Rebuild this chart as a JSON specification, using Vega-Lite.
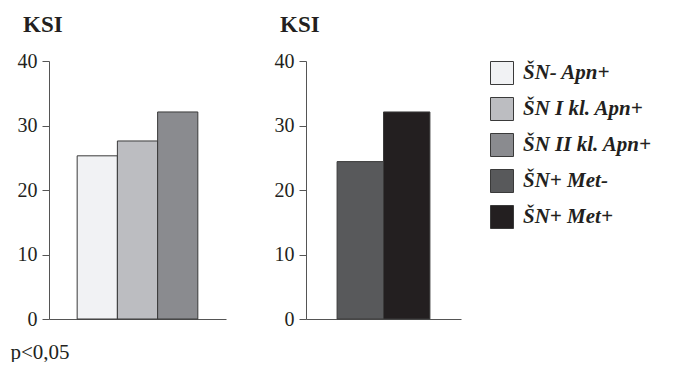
{
  "$schema": "https://vega.github.io/schema/vega-lite/v6.json",
  "background": "white",
  "padding": {"left": 10, "top": 14, "right": 5, "bottom": 0},
  "datasets": {
    "a": [
      {"group": "ŠN- Apn+", "KSI": 25.3},
      {"group": "ŠN I kl. Apn+", "KSI": 27.6},
      {"group": "ŠN II kl. Apn+", "KSI": 32.1}
    ],
    "b": [
      {"group": "ŠN+ Met-", "KSI": 24.4},
      {"group": "ŠN+ Met+", "KSI": 32.1}
    ]
  },
  "config": {
    "font": "Times New Roman",
    "view": {"stroke": null},
    "axis": {
      "grid": false,
      "domainColor": "#555555",
      "tickColor": "#555555",
      "labelFont": "Times New Roman",
      "labelFontSize": 20,
      "labelColor": "#231f20",
      "titleFont": "Times New Roman",
      "titleColor": "#231f20"
    },
    "title": {
      "font": "Times New Roman",
      "fontSize": 23,
      "fontWeight": "bold",
      "color": "#231f20",
      "anchor": "start",
      "frame": "group",
      "dx": -26,
      "offset": 14
    },
    "legend": {
      "orient": "right",
      "offset": 29,
      "symbolType": "square",
      "symbolSize": 529,
      "symbolStrokeColor": "#3a3a3a",
      "symbolStrokeWidth": 1,
      "symbolOpacity": 1,
      "labelFont": "Times New Roman",
      "labelFontStyle": "italic",
      "labelFontWeight": "bold",
      "labelFontSize": 21,
      "labelColor": "#231f20",
      "labelOffset": 9,
      "rowPadding": 8,
      "labelLimit": 300
    }
  },
  "spacing": 48,
  "hconcat": [
    {
      "width": 177,
      "height": 258,
      "title": {"text": "KSI"},
      "data": {"name": "a"},
      "mark": {"type": "bar", "stroke": "#3a3a3a", "strokeWidth": 1},
      "encoding": {
        "x": {
          "field": "group", "type": "nominal", "sort": null,
          "scale": {"paddingInner": 0, "paddingOuter": 0.7},
          "axis": {"labels": false, "ticks": false, "title": "p<0,05", "titleFontSize": 21, "titleFontWeight": "normal", "titleAnchor": "start", "titleX": -39, "titleY": 39, "titleBaseline": "alphabetic"}
        },
        "y": {
          "field": "KSI", "type": "quantitative",
          "scale": {"domain": [0, 40]},
          "axis": {"values": [0, 10, 20, 30, 40], "title": null, "tickSize": 7, "labelPadding": 5}
        },
        "color": {
          "field": "group", "type": "nominal",
          "scale": {
            "domain": ["ŠN- Apn+", "ŠN I kl. Apn+", "ŠN II kl. Apn+", "ŠN+ Met-", "ŠN+ Met+"],
            "range": ["#f1f2f4", "#bcbdc1", "#8a8b8f", "#58595b", "#231f20"]
          },
          "legend": {"title": null}
        }
      }
    },
    {
      "width": 155,
      "height": 258,
      "title": {"text": "KSI"},
      "data": {"name": "b"},
      "mark": {"type": "bar", "stroke": "#3a3a3a", "strokeWidth": 1},
      "encoding": {
        "x": {
          "field": "group", "type": "nominal", "sort": null,
          "scale": {"paddingInner": 0, "paddingOuter": 0.67},
          "axis": {"labels": false, "ticks": false, "title": null}
        },
        "y": {
          "field": "KSI", "type": "quantitative",
          "scale": {"domain": [0, 40]},
          "axis": {"values": [0, 10, 20, 30, 40], "title": null, "tickSize": 7, "labelPadding": 5}
        },
        "color": {
          "field": "group", "type": "nominal",
          "legend": {"title": null}
        }
      }
    }
  ]
}
